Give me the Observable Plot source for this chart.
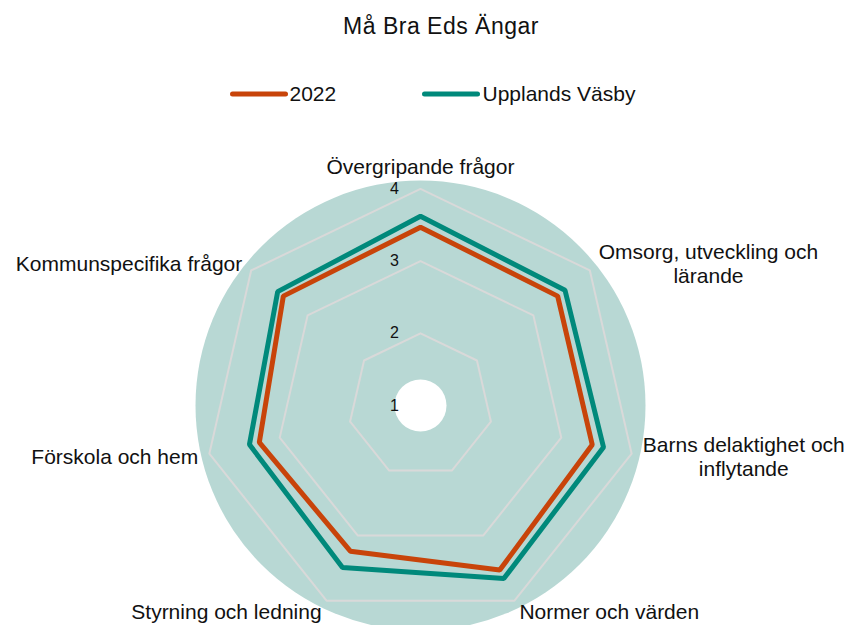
<!DOCTYPE html>
<html><head><meta charset="utf-8">
<script src="https://cdn.jsdelivr.net/npm/d3@7"></script>
<script src="https://cdn.jsdelivr.net/npm/@observablehq/plot@0.6"></script>
<style>body{margin:0;background:#fff} svg{display:block}</style>
</head><body><div id="chart"></div>
<script>
const title = "Må Bra Eds Ängar";
const categories = ["Övergripande frågor", "Omsorg, utveckling och\nlärande", "Barns delaktighet och\ninflytande", "Normer och värden", "Styrning och ledning", "Förskola och hem", "Kommunspecifika frågor"];
const seriesNames = ["2022", "Upplands Väsby"];
const values2022 = [3.47, 3.43, 3.44, 3.53, 3.24, 3.29, 3.43];
const valuesVasby = [3.62, 3.56, 3.60, 3.66, 3.49, 3.43, 3.53];
const tickValues = [1, 2, 3, 4];
const gridLevels = [2, 3, 4];
const colors = ["#c8440a", "#00897b"];

const W = 850, H = 625, CX = 420, CY = 405, PX = 72.2, VMIN = 1;
const FONT = "Liberation Sans, Arial, sans-serif";
const u = p => p / PX;
const X = px => (px - CX) / PX;
const Y = py => (CY - py) / PX;
const n = categories.length;
const ang = i => i * 2 * Math.PI / n;
const polar = (i, r) => ({x: r * Math.sin(ang(i)), y: r * Math.cos(ang(i))});

const ctx = document.createElement("canvas").getContext("2d");
ctx.font = "21px 'Liberation Sans'";

const grid = gridLevels.flatMap(l => categories.map((c, i) => ({level: l, ...polar(i, l - VMIN)})));
const seriesVals = [values2022, valuesVasby];
const rows = seriesNames.flatMap((s, k) => seriesVals[k].map((v, i) => ({series: s, ...polar(i, v - VMIN)})));

const labelR = u(228);
const labels = categories.map((c, i) => {
  const s = Math.sin(ang(i));
  const top = Math.abs(s) < 0.1;
  const p = polar(i, top ? labelR + u(4) : labelR);
  const w = Math.max(...c.split("\n").map(l => ctx.measureText(l).width));
  let x = p.x;
  if (s > 0.1) x += u(w / 2); else if (s < -0.1) x -= u(w / 2);
  return {text: c, x, y: p.y, top};
});
const ticks = tickValues.map(t => ({text: String(t), x: X(CX - 26), y: t - VMIN}));

const legendLines = [
  {series: seriesNames[0], x: X(232), y: Y(93.5)}, {series: seriesNames[0], x: X(285), y: Y(93.5)},
  {series: seriesNames[1], x: X(424), y: Y(93.5)}, {series: seriesNames[1], x: X(477), y: Y(93.5)}
];
const legendText = [
  {text: seriesNames[0], x: X(289), y: Y(94)},
  {text: seriesNames[1], x: X(482), y: Y(94)}
];

const chart = Plot.plot({
  width: W, height: H, margin: 0,
  x: {domain: [X(0), X(W)], range: [0, W], axis: null},
  y: {domain: [Y(H), Y(0)], range: [H, 0], axis: null},
  color: {domain: seriesNames, range: colors},
  style: {fontFamily: FONT, background: "#fff"},
  marks: [
    Plot.dot([{x: 0, y: 0}], {x: "x", y: "y", r: 225, fill: "#b8d8d4", stroke: "none"}),
    Plot.line(grid, {x: "x", y: "y", z: "level", curve: "linear-closed", stroke: "#d9d9d9", strokeWidth: 2}),
    Plot.dot([{x: 0, y: 0}], {x: "x", y: "y", r: 26, fill: "#fff", stroke: "none"}),
    Plot.line(rows.filter(d => d.series === seriesNames[1]), {x: "x", y: "y", curve: "linear-closed", stroke: "series", strokeWidth: 5, strokeLinejoin: "miter"}),
    Plot.line(rows.filter(d => d.series === seriesNames[0]), {x: "x", y: "y", curve: "linear-closed", stroke: "series", strokeWidth: 5, strokeLinejoin: "miter"}),
    Plot.text(ticks, {x: "x", y: "y", text: "text", fontSize: 16, fill: "#111", textAnchor: "middle", lineAnchor: "middle"}),
    Plot.text(labels.filter(d => !d.top), {x: "x", y: "y", text: "text", fontSize: 21, fill: "#111", textAnchor: "middle", lineAnchor: "middle", lineHeight: 1.15}),
    Plot.text(labels.filter(d => d.top), {x: "x", y: "y", text: "text", fontSize: 21, fill: "#111", textAnchor: "middle", lineAnchor: "bottom"}),
    Plot.line(legendLines, {x: "x", y: "y", z: "series", stroke: "series", strokeWidth: 5, strokeLinecap: "round"}),
    Plot.text(legendText, {x: "x", y: "y", text: "text", fontSize: 21, fill: "#111", textAnchor: "start", lineAnchor: "middle"}),
    Plot.text([{text: title, x: X(440.5), y: Y(26)}], {x: "x", y: "y", text: "text", fontSize: 23, fill: "#111", textAnchor: "middle", lineAnchor: "middle", className: "chart-title"})
  ]
});
chart.querySelectorAll(".chart-title text").forEach(t => t.setAttribute("letter-spacing", "0.5"));
document.getElementById("chart").appendChild(chart);
</script>
</body></html>
